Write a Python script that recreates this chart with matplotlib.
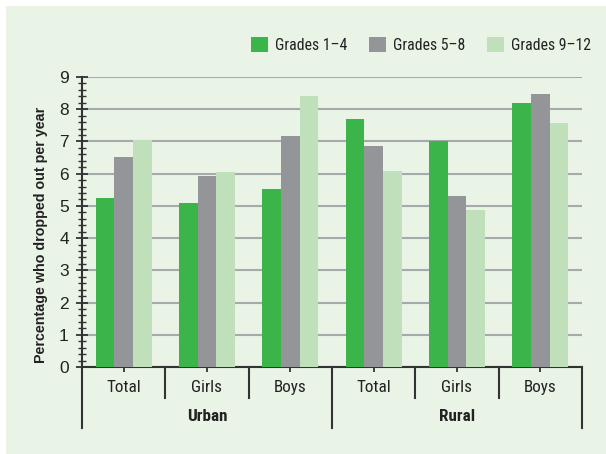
import matplotlib
matplotlib.use('Agg')
import matplotlib.pyplot as plt
import matplotlib.transforms as mtransforms
from matplotlib.patches import Rectangle, Patch

# Data
areas = ['Urban', 'Rural']
groups = ['Total', 'Girls', 'Boys', 'Total', 'Girls', 'Boys']
series = ['Grades 1\u20134', 'Grades 5\u20138', 'Grades 9\u201312']
grades_1_4 = [5.23, 5.10, 5.51, 7.70, 7.02, 8.20]
grades_5_8 = [6.53, 5.94, 7.18, 6.87, 5.32, 8.47]
grades_9_12 = [7.05, 6.05, 8.41, 6.09, 4.86, 7.58]
colors = ['#3bb44a', '#939598', '#c0e0bc']

narrow = ['Roboto Condensed', 'Liberation Sans', 'DejaVu Sans']
plt.rcParams['font.family'] = ['Liberation Sans', 'DejaVu Sans']

bg = '#e9f3e6'
dark = '#333333'
txtc = '#222222'

fig = plt.figure(figsize=(6.06, 4.54), dpi=100)
fig.patch.set_facecolor('white')
fig.patches.append(Rectangle((6 / 606, 0), 1, 448 / 454, transform=fig.transFigure,
                             facecolor=bg, edgecolor='none', zorder=-10))

ax = fig.add_axes([82 / 606, 87 / 454, 500 / 606, 290 / 454])
ax.set_facecolor(bg)

x = list(range(len(groups)))
w = 0.224
for i, vals in enumerate([grades_1_4, grades_5_8, grades_9_12]):
    ax.bar([xi + (i - 1) * w for xi in x], vals, width=w, color=colors[i], zorder=3)

ax.set_xlim(-0.5, len(groups) - 0.5)
ax.set_ylim(0, 9)
ax.set_yticks(range(10))
ax.set_yticks([v / 5 for v in range(46)], minor=True)
ax.yaxis.grid(True, color='#a7a9ac', linewidth=1.5, zorder=0)
ax.set_axisbelow(True)
ax.tick_params(axis='y', which='major', direction='inout', length=9, width=1.3,
               color=dark, labelsize=12.5, labelcolor=txtc, pad=5)
ax.tick_params(axis='y', which='minor', direction='inout', length=6, width=1.0, color=dark)
ax.set_xticks(x)
ax.set_xticklabels([])
ax.tick_params(axis='x', which='major', direction='inout', length=7, width=1.3, color=dark)

for s in ['top', 'right']:
    ax.spines[s].set_visible(False)
for s in ['left', 'bottom']:
    ax.spines[s].set_color(dark)
    ax.spines[s].set_linewidth(1.5)

ax.set_ylabel('Percentage who dropped out per year', fontsize=10.3, fontweight='bold',
              color=txtc)
ax.yaxis.set_label_coords(-0.068, 0.455)

trans = mtransforms.blended_transform_factory(ax.transData, ax.transAxes)
# category labels and separators
for xi, g in zip(x, groups):
    ax.text(xi, -0.069, g, transform=trans, ha='center', va='center',
            fontsize=12.3, family=narrow, color=txtc)
for b in range(len(groups) + 1):
    edge = b - 0.5
    long_line = b % 3 == 0
    ax.plot([edge, edge], [0, -0.21 if long_line else -0.107], transform=trans,
            color=dark, linewidth=1.5, clip_on=False)
for k, a in enumerate(areas):
    ax.text(k * 3 + 1, -0.172, a, transform=trans, ha='center', va='center',
            fontsize=12.3, fontweight='bold', family=narrow, color=txtc)

# legend, one entry at a time so the spacing matches
leg_x = [251, 369, 487]
for lx, c, lbl in zip(leg_x, colors, series):
    leg = fig.legend(handles=[Patch(facecolor=c, edgecolor='none')], labels=[lbl],
                     loc='center left', bbox_to_anchor=(lx / 606, 1 - 45 / 454),
                     frameon=False, borderpad=0, borderaxespad=0,
                     handlelength=1.1, handleheight=1.05, handletextpad=0.45,
                     prop={'family': narrow, 'size': 11.3})
    leg.get_texts()[0].set_color(txtc)

fig.savefig('out.png', dpi=100, facecolor=fig.get_facecolor())
